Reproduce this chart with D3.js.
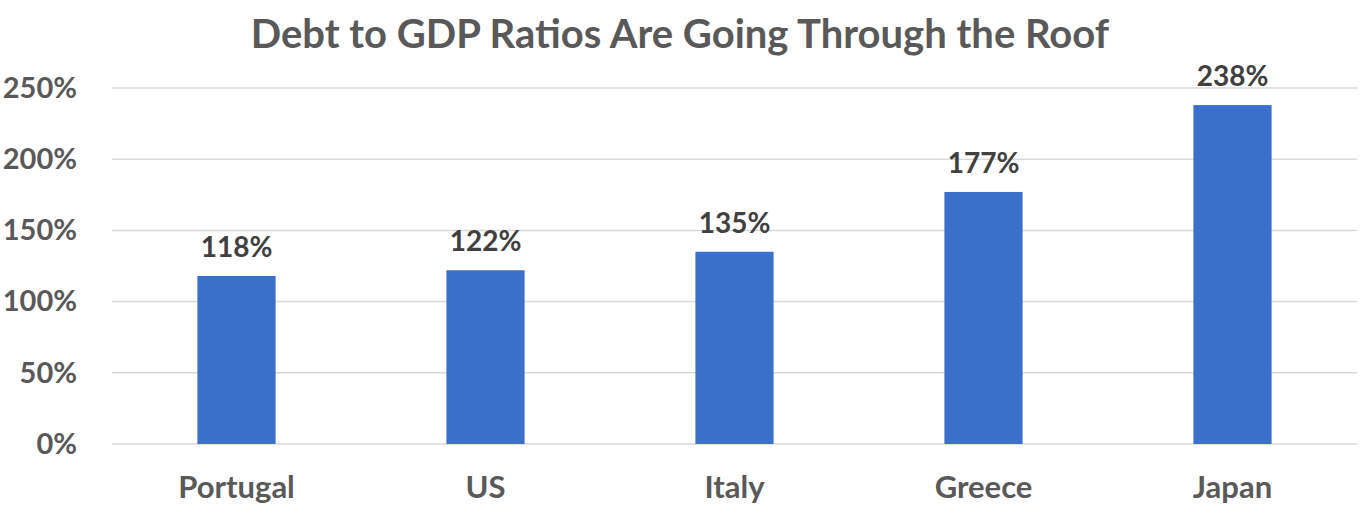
<!DOCTYPE html>
<html lang="en">
<head>
    <meta charset="UTF-8">
    <title>Debt to GDP Ratios</title>
    <script src="https://d3js.org/d3.v7.min.js"></script>
    <style>
        body { margin: 0; background: #fff; }
        .chart { font-family: Lato, "Open Sans", sans-serif; font-weight: bold; }
    </style>
</head>
<body>
    <svg id="chart" class="chart" width="1360" height="514"></svg>

    <script>
        // Data
        const countries = ["Portugal", "US", "Italy", "Greece", "Japan"];
        const debtRatios = [118, 122, 135, 177, 238];
        const yTicks = [0, 50, 100, 150, 200, 250];
        const title = "Debt to GDP Ratios Are Going Through the Roof";

        const svg = d3.select("#chart"),
            margin = { top: 88, right: 3, bottom: 70, left: 112 },
            width = +svg.attr("width") - margin.left - margin.right,
            height = +svg.attr("height") - margin.top - margin.bottom;

        const chart = svg.append("g")
            .attr("transform", `translate(${margin.left},${margin.top})`);

        // Scales
        const x = d3.scaleBand()
            .domain(countries)
            .range([0, width])
            .paddingInner(0.686)
            .paddingOuter(0.343);
        const y = d3.scaleLinear().domain([0, 250]).range([height, 0]);

        // Title
        svg.append("text")
            .attr("x", 680)
            .attr("y", 48)
            .attr("text-anchor", "middle")
            .attr("font-size", 40)
            .attr("fill", "#595959")
            .text(title);

        // Gridlines
        chart.append("g")
            .selectAll("line")
            .data(yTicks)
            .join("line")
            .attr("x1", 0)
            .attr("x2", width)
            .attr("y1", d => y(d))
            .attr("y2", d => y(d))
            .attr("stroke", "#d9d9d9")
            .attr("stroke-width", 1.5);

        // Y axis
        const yAxis = chart.append("g")
            .call(d3.axisLeft(y).tickValues(yTicks).tickFormat(d => d + "%").tickSize(0).tickPadding(35));
        yAxis.select(".domain").remove();
        yAxis.selectAll("text")
            .attr("font-family", "Lato, 'Open Sans', sans-serif")
            .attr("font-weight", "bold")
            .attr("font-size", 29)
            .attr("fill", "#595959");

        // X axis
        const xAxis = chart.append("g")
            .attr("transform", `translate(0,${height})`)
            .call(d3.axisBottom(x).tickSize(0).tickPadding(32));
        xAxis.select(".domain").remove();
        xAxis.selectAll("text")
            .attr("font-family", "Lato, 'Open Sans', sans-serif")
            .attr("font-weight", "bold")
            .attr("font-size", 31)
            .attr("fill", "#595959");

        // Bars
        const rows = countries.map((c, i) => ({ country: c, value: debtRatios[i] }));

        chart.selectAll(".bar")
            .data(rows)
            .join("rect")
            .attr("class", "bar")
            .attr("x", d => x(d.country))
            .attr("y", d => y(d.value))
            .attr("width", x.bandwidth())
            .attr("height", d => height - y(d.value))
            .attr("fill", "#3a70c9");

        // Value labels
        chart.selectAll(".label")
            .data(rows)
            .join("text")
            .attr("class", "label")
            .attr("x", d => x(d.country) + x.bandwidth() / 2)
            .attr("y", d => y(d.value) - 19)
            .attr("text-anchor", "middle")
            .attr("font-size", 28)
            .attr("fill", "#404040")
            .text(d => d.value + "%");
    </script>
</body>
</html>
